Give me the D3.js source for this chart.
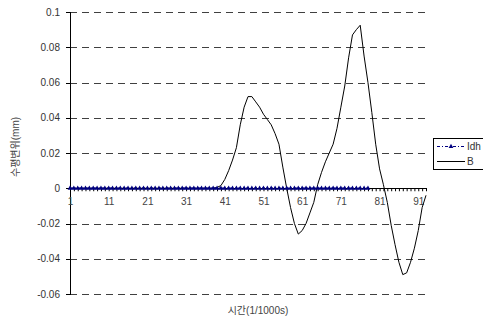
<!DOCTYPE html>
<html>
<head>
<meta charset="utf-8">
<script src="https://cdn.jsdelivr.net/npm/d3@7"></script>
<style>
  html, body { margin: 0; padding: 0; background: #fff; }
  svg { display: block; }
  text { font-family: "Liberation Sans", "Noto Sans CJK KR", sans-serif; }
</style>
</head>
<body>
<svg id="chart" width="483" height="320"></svg>
<script>
// Horizontal displacement records (mm) over time samples (1/1000 s)
const idhValues = Array.from({ length: 78 }, () => 0);
const bValues = [
  0, 0, 0, 0, 0, 0, 0, 0, 0, 0,
  0, 0, 0, 0, 0, 0, 0, 0, 0, 0,
  0, 0, 0, 0, 0, 0, 0, 0, 0, 0,
  0, 0, 0, 0, 0, 0, 0, 0, 0.0005, 0.0015,
  0.005, 0.010, 0.016, 0.023, 0.036, 0.046, 0.052, 0.052, 0.049, 0.046,
  0.042, 0.039, 0.036, 0.031, 0.025, 0.012, 0.000, -0.011, -0.020, -0.026,
  -0.024, -0.020, -0.014, -0.008, 0.002, 0.009, 0.015, 0.020, 0.025, 0.034,
  0.046, 0.058, 0.074, 0.087, 0.090, 0.0925, 0.075, 0.060, 0.043, 0.025,
  0.011, 0.002, -0.008, -0.021, -0.032, -0.042, -0.049, -0.048, -0.042, -0.034,
  -0.024, -0.011, -0.004
];
const categoryCount = 93;
const yTicks = [0.1, 0.08, 0.06, 0.04, 0.02, 0, -0.02, -0.04, -0.06];
const xLabelEvery = 10;
const seriesNames = ["Idh", "B"];
const yTitle = "수평변위(mm)";
const xTitle = "시간(1/1000s)";

const svg = d3.select("#chart");
const plotLeft = 70, plotRight = 426, plotTop = 12, plotBottom = 294;

const x = d3.scaleLinear().domain([1, categoryCount]).range([plotLeft, plotRight]);
const y = d3.scaleLinear().domain([-0.06, 0.1]).range([plotBottom, plotTop]);

// dashed gridlines
svg.append("g")
  .selectAll("line")
  .data(yTicks.filter(v => v !== 0))
  .join("line")
  .attr("x1", plotLeft).attr("x2", plotRight)
  .attr("y1", d => Math.round(y(d)) + 0.5).attr("y2", d => Math.round(y(d)) + 0.5)
  .attr("stroke", "#404040")
  .attr("stroke-width", 1)
  .attr("stroke-dasharray", "7,5");

// y axis
const yAxis = svg.append("g")
  .attr("transform", `translate(${plotLeft},0)`)
  .call(d3.axisLeft(y).tickValues(yTicks).tickSize(4).tickPadding(6)
    .tickFormat(d => d === 0 ? "0" : String(+d.toFixed(2))));
yAxis.select(".domain").attr("stroke", "#000").attr("shape-rendering", "crispEdges");
yAxis.selectAll(".tick line").attr("stroke", "#000").attr("shape-rendering", "crispEdges");
yAxis.selectAll("text").attr("font-size", 10).attr("fill", "#333");

// x axis along zero
const cats = d3.range(1, categoryCount + 1);
const xAxis = svg.append("g")
  .attr("transform", `translate(0,${y(0)})`)
  .call(d3.axisBottom(x).tickValues(cats).tickSize(3).tickSizeOuter(0).tickPadding(7)
    .tickFormat(d => (d - 1) % xLabelEvery === 0 ? d : ""));
xAxis.select(".domain").attr("stroke", "#000").attr("shape-rendering", "crispEdges");
xAxis.selectAll(".tick line").attr("stroke", "#000");
xAxis.selectAll("text").attr("font-size", 10).attr("fill", "#444");

// series B
const lineGen = d3.line().x((d, i) => x(i + 1)).y(d => y(d));
svg.append("path")
  .datum(bValues)
  .attr("d", lineGen)
  .attr("fill", "none")
  .attr("stroke", "#000")
  .attr("stroke-width", 1);

// series Idh
const idhColor = "#000080";
svg.append("path")
  .datum(idhValues)
  .attr("d", lineGen)
  .attr("fill", "none")
  .attr("stroke", idhColor)
  .attr("stroke-width", 1.5)
  .attr("stroke-dasharray", "3,2,1,2");
svg.append("g")
  .selectAll("path")
  .data(idhValues)
  .join("path")
  .attr("transform", (d, i) => `translate(${x(i + 1)},${y(d)})`)
  .attr("d", d3.symbol(d3.symbolTriangle).size(10))
  .attr("fill", idhColor);

// axis titles
svg.append("text")
  .attr("transform", `translate(19,${(plotTop + plotBottom) / 2 - 6}) rotate(-90)`)
  .attr("text-anchor", "middle")
  .attr("font-size", 10)
  .attr("fill", "#444")
  .text(yTitle);
svg.append("text")
  .attr("x", (plotLeft + plotRight) / 2 + 10)
  .attr("y", 314)
  .attr("text-anchor", "middle")
  .attr("font-size", 10)
  .attr("fill", "#444")
  .text(xTitle);

// legend
const lg = svg.append("g").attr("transform", "translate(433,138)");
lg.append("rect")
  .attr("x", 0.5).attr("y", 0.5).attr("width", 60).attr("height", 31)
  .attr("fill", "#fff").attr("stroke", "#000").attr("stroke-width", 1);
lg.append("line")
  .attr("x1", 4).attr("x2", 32).attr("y1", 8.5).attr("y2", 8.5)
  .attr("stroke", idhColor).attr("stroke-width", 1.2).attr("stroke-dasharray", "3,2,1,2");
lg.append("path")
  .attr("transform", "translate(18,8.5)")
  .attr("d", d3.symbol(d3.symbolTriangle).size(10))
  .attr("fill", idhColor);
lg.append("line")
  .attr("x1", 4).attr("x2", 32).attr("y1", 23.5).attr("y2", 23.5)
  .attr("stroke", "#000").attr("stroke-width", 1);
lg.selectAll("text.lbl")
  .data(seriesNames)
  .join("text")
  .attr("class", "lbl")
  .attr("x", 34)
  .attr("y", (d, i) => 12 + i * 15)
  .attr("font-size", 10)
  .attr("fill", "#333")
  .text(d => d);
</script>
</body>
</html>
